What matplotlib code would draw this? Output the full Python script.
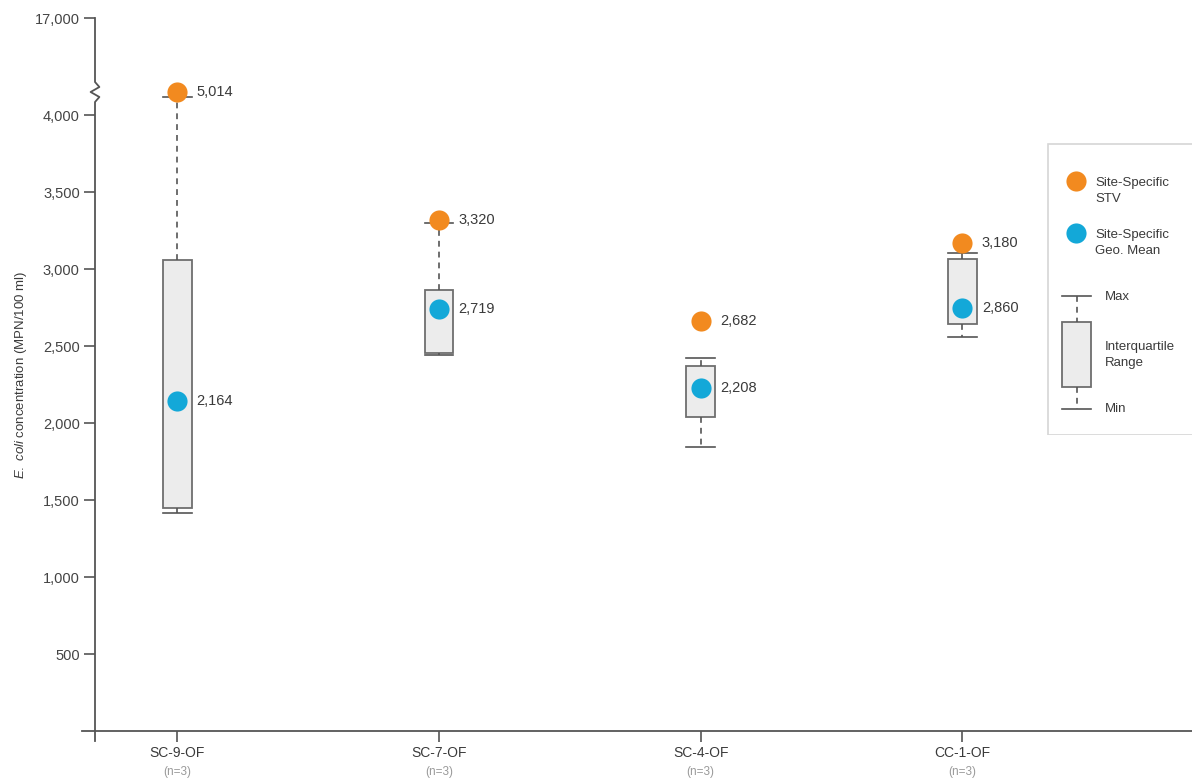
import numpy as np
import matplotlib
matplotlib.use("Agg")
import matplotlib.pyplot as plt
from matplotlib import font_manager as fm
from matplotlib.patches import Rectangle
from matplotlib.lines import Line2D
import matplotlib.transforms as mtransforms

# ---------------- data ----------------
sites = ["SC-9-OF", "SC-7-OF", "SC-4-OF", "CC-1-OF"]
n_labels = ["(n=3)", "(n=3)", "(n=3)", "(n=3)"]
whisker_min = [1416, 2442, 1844, 2558]
q1 = [1448, 2455, 2039, 2643]
q3 = [3058, 2864, 2370, 3065]
whisker_max = [4800, 3300, 2422, 3104]
stv_pos = [5014, 3318, 2660, 3170]
stv_labels = ["5,014", "3,320", "2,682", "3,180"]
geo_pos = [2140, 2740, 2225, 2745]
geo_labels = ["2,164", "2,719", "2,208", "2,860"]
yticks = [500, 1000, 1500, 2000, 2500, 3000, 3500, 4000, 17000]

# ---------------- fonts ----------------
avail = {f.name for f in fm.fontManager.ttflist}
base = "Liberation Sans Narrow" if "Liberation Sans Narrow" in avail else "Liberation Sans"
plt.rcParams["font.family"] = [base, "DejaVu Sans"]
plt.rcParams["mathtext.fontset"] = "custom"
plt.rcParams["mathtext.it"] = base + ":italic"
plt.rcParams["mathtext.rm"] = base

ORANGE = "#f28a1f"
BLUE = "#13a8d8"
DARK = "#3a3a3a"
AX = "#555555"

# broken-axis scale: linear to 4000, compressed above
kv = np.array([0, 4000, 5014, 17000], dtype=float)
kt = np.array([0, 4000, 4150, 4630], dtype=float)
fwd = lambda v: np.interp(v, kv, kt)
inv = lambda t: np.interp(t, kt, kv)

W, H = 1192, 780
fig = plt.figure(figsize=(W / 100, H / 100), dpi=100)
ax = fig.add_axes([95 / W, (H - 731) / H, (W - 95) / W, (731 - 18) / H])
ax.set_yscale("function", functions=(fwd, inv))
ax.set_ylim(0, 17000)
x = np.arange(len(sites))
ax.set_xlim(-0.314, 3.877)

stats = []
for i in range(len(sites)):
    stats.append(dict(whislo=whisker_min[i], q1=q1[i], med=q1[i], q3=q3[i],
                      whishi=whisker_max[i], fliers=[]))
ax.bxp(stats, positions=x, widths=0.11, capwidths=0.11, patch_artist=True,
       showfliers=False, manage_ticks=False,
       boxprops=dict(facecolor="#ececec", edgecolor="#6e6e6e", linewidth=1.3),
       whiskerprops=dict(color="#555555", linewidth=1.2, linestyle=(0, (3.5, 3))),
       capprops=dict(color="#555555", linewidth=1.2),
       medianprops=dict(linewidth=0, alpha=0))

ax.plot(x, stv_pos, "o", color=ORANGE, markersize=14.5, markeredgewidth=0, zorder=5, clip_on=False)
ax.plot(x, geo_pos, "o", color=BLUE, markersize=14.5, markeredgewidth=0, zorder=5)
for i in range(len(sites)):
    ax.annotate(stv_labels[i], (x[i], stv_pos[i]), xytext=(14, 0), textcoords="offset points",
                va="center", ha="left", fontsize=10.5, color=DARK)
    ax.annotate(geo_labels[i], (x[i], geo_pos[i]), xytext=(14, 0), textcoords="offset points",
                va="center", ha="left", fontsize=10.5, color=DARK)

# axes styling
for s in ["top", "right", "left"]:
    ax.spines[s].set_visible(False)
ax.spines["bottom"].set_color(AX)
ax.spines["bottom"].set_linewidth(1.3)
ax.spines["bottom"].set_bounds(-0.314 - 13 / 261, 3.877)

# left spine with zigzag break
zz_top = (731 - 82) / 713.0
zz_bot = (731 - 102) / 713.0
dx = 0.004
segx = [0, 0, dx, -dx, dx, 0, 0]
segy = [-10 / 713, zz_bot, zz_bot + (zz_top - zz_bot) * 0.25, zz_bot + (zz_top - zz_bot) * 0.5,
        zz_bot + (zz_top - zz_bot) * 0.75, zz_top, 1.0]
ax.add_line(Line2D(segx, segy, transform=ax.transAxes, color=AX, linewidth=1.3, clip_on=False))

ax.set_yticks(yticks)
ax.set_yticklabels([f"{v:,}" for v in yticks])
ax.yaxis.set_minor_locator(matplotlib.ticker.NullLocator())
ax.tick_params(axis="y", length=8, width=1.2, color=AX, labelsize=10.5, labelcolor="#444444", pad=3)
ax.set_xticks(x)
ax.set_xticklabels(sites)
ax.tick_params(axis="x", length=8, width=1.2, color=AX, labelsize=10, labelcolor=DARK, pad=3)

ntr = mtransforms.blended_transform_factory(ax.transData, fig.transFigure)
for i in range(len(sites)):
    ax.text(x[i], (H - 772) / H, n_labels[i], transform=ntr,
            ha="center", va="center", fontsize=8.5, color="#9a9a9a")

ax.set_ylabel(r"$\it{E.}$ $\it{coli}$ concentration (MPN/100 ml)", fontsize=9.5, color=DARK, labelpad=4)

# legend panel
lg = fig.add_axes([1047 / W, (H - 435) / H, (1200 - 1047) / W, (435 - 143) / H])
lg.set_xlim(1047, 1200)
lg.set_ylim(435, 143)
lg.axis("off")
lg.add_patch(Rectangle((1047.5, 143.5), 160, 291, facecolor="white", edgecolor="#d6d6d6", linewidth=1.2))
lg.plot([1076], [181], "o", color=ORANGE, markersize=14.5, markeredgewidth=0)
lg.plot([1076], [233], "o", color=BLUE, markersize=14.5, markeredgewidth=0)
lg.text(1095, 191, "Site-Specific\nSTV", fontsize=9.5, color=DARK, va="center", linespacing=1.5)
lg.text(1095, 243, "Site-Specific\nGeo. Mean", fontsize=9.5, color=DARK, va="center", linespacing=1.5)
lg.plot([1062, 1091], [296, 296], color="#555555", lw=1.2)
lg.plot([1076.5, 1076.5], [296, 322], color="#555555", lw=1.2, ls=(0, (3.5, 3)))
lg.add_patch(Rectangle((1062, 322), 29, 65, facecolor="#ececec", edgecolor="#6e6e6e", lw=1.3))
lg.plot([1076.5, 1076.5], [387, 409], color="#555555", lw=1.2, ls=(0, (3.5, 3)))
lg.plot([1062, 1091], [409, 409], color="#555555", lw=1.2)
lg.text(1105, 297, "Max", fontsize=9.5, color=DARK, va="center")
lg.text(1105, 355, "Interquartile\nRange", fontsize=9.5, color=DARK, va="center", linespacing=1.5)
lg.text(1105, 409, "Min", fontsize=9.5, color=DARK, va="center")

fig.savefig("out.png", dpi=100)
